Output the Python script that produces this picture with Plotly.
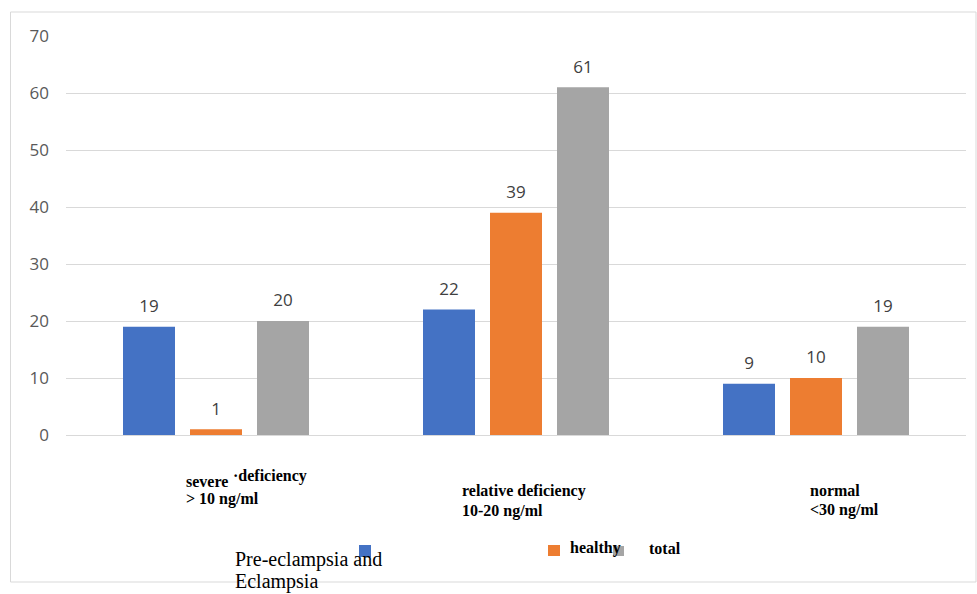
import plotly.graph_objects as go

# ---- data ----
categories = ["severe", "relative", "normal"]
series_names = ["Pre-eclampsia and Eclampsia", "healthy", "total"]
pre_eclampsia = [19, 22, 9]
healthy = [1, 39, 10]
total = [20, 61, 19]
colors = ["#4472C4", "#ED7D31", "#A5A5A5"]
y_ticks = [0, 10, 20, 30, 40, 50, 60, 70]

W, H = 977, 594
L, R, T, B = 66, 11, 36, 159
PW, PH = W - L - R, H - T - B


def px(x):
    return (x - L) / PW


def py(y):
    return (H - B - y) / PH


fig = go.Figure()
values = [pre_eclampsia, healthy, total]
for name, vals, col in zip(series_names, values, colors):
    fig.add_trace(go.Bar(
        x=categories, y=vals, name=name,
        marker=dict(color=col, line=dict(width=0)),
        showlegend=False, hoverinfo="skip",
    ))
for name, vals in zip(series_names, values):
    fig.add_trace(go.Scatter(
        x=categories, y=vals, mode="markers+text",
        text=[str(v) for v in vals], textposition="top center",
        textfont=dict(family="Open Sans", size=17, color="#404040"),
        marker=dict(size=15, opacity=0),
        showlegend=False, hoverinfo="skip", cliponaxis=False,
    ))

fig.update_layout(
    width=W, height=H,
    margin=dict(l=L, r=R, t=T, b=B),
    paper_bgcolor="white", plot_bgcolor="white",
    barmode="group", bargap=0.33, bargroupgap=0.224,
    scattermode="group",
    showlegend=False,
    font=dict(family="Open Sans", size=17, color="#595959"),
)
fig.update_xaxes(showticklabels=False, showgrid=False, zeroline=False,
                 showline=False, ticks="")
fig.update_yaxes(range=[0, 70], tickvals=y_ticks, showgrid=True,
                 gridcolor="#D9D9D9", gridwidth=1, zeroline=True,
                 zerolinecolor="#D9D9D9", zerolinewidth=1, showline=False,
                 ticks="", ticklabelstandoff=16,
                 tickfont=dict(family="Open Sans", size=17, color="#595959"))

# outer border
fig.add_shape(type="rect", xref="paper", yref="paper",
              x0=px(10.5), x1=px(976), y0=py(12), y1=py(582),
              line=dict(color="#D9D9D9", width=1), layer="below")

bold = dict(family="Liberation Serif", size=16, color="black")
label_lines = [
    ("<b>severe</b>", 184, 481),
    ("<b>·deficiency</b>", 231, 476),
    ("<b>&gt; 10 ng/ml</b>", 184, 499),
    ("<b>relative deficiency</b>", 460, 491),
    ("<b>10-20 ng/ml</b>", 460, 511),
    ("<b>normal</b>", 808, 490),
    ("<b>&lt;30 ng/ml</b>", 808, 510),
    ("<b>healthy</b>", 568, 548),
    ("<b>total</b>", 647, 548),
]
for txt, x, y in label_lines:
    fig.add_annotation(text=txt, xref="paper", yref="paper", x=px(x), y=py(y),
                       xanchor="left", yanchor="middle", showarrow=False,
                       font=bold)
for txt, y in [("Pre-eclampsia and", 559), ("Eclampsia", 581)]:
    fig.add_annotation(text=txt, xref="paper", yref="paper", x=px(233), y=py(y),
                       xanchor="left", yanchor="middle", showarrow=False,
                       font=dict(family="Liberation Serif", size=20, color="black"))

# legend swatches
for col, (x0, x1, y0, y1) in zip(colors, [(359, 371, 545, 557),
                                          (548, 560, 545, 556),
                                          (613, 624, 546, 556)]):
    fig.add_shape(type="rect", xref="paper", yref="paper",
                  x0=px(x0), x1=px(x1), y0=py(y1), y1=py(y0),
                  fillcolor=col, line=dict(width=0), layer="below")

fig.write_html("out.html")
